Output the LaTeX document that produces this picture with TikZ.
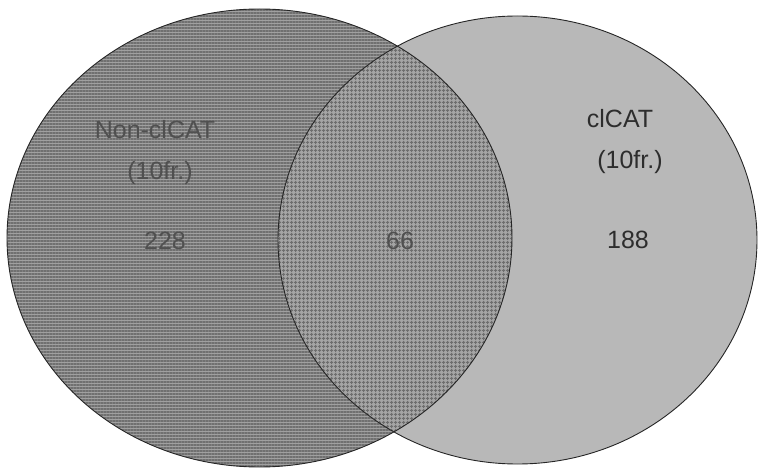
\documentclass[tikz,border=0pt]{standalone}
\usepackage{fontspec}
\setmainfont{Liberation Sans}
\usetikzlibrary{patterns.meta}
\definecolor{leftfill}{RGB}{160,160,160}
\definecolor{leftline}{RGB}{112,112,112}
\definecolor{rightfill}{RGB}{184,184,184}
\definecolor{midfill}{RGB}{165,165,165}
\definecolor{midline}{RGB}{110,110,110}
\definecolor{darktext}{RGB}{45,45,45}
\definecolor{lefttext}{RGB}{80,80,80}
\tikzset{
  lbl/.style={font=\fontsize{25}{30}\selectfont, inner sep=0pt},
  lblleft/.style={lbl, text=lefttext},
  lblright/.style={lbl, text=darktext},
  rim/.style={draw=black!85, line width=0.9pt}
}
\begin{document}
\begin{tikzpicture}[x=1pt,y=1pt]
\useasboundingbox (0,0) rectangle (758,469);
% right set (cICAT)
\fill[rightfill] (517.5,229) ellipse [x radius=239.5, y radius=224];
% left set (Non-cICAT)
\fill[leftfill] (259.5,231) ellipse [x radius=252.5, y radius=229];
\fill[pattern={Lines[angle=0,distance=3pt,line width=1.2pt]}, pattern color=leftline]
  (259.5,231) ellipse [x radius=252.5, y radius=229];
% intersection
\begin{scope}
  \clip (259.5,231) ellipse [x radius=252.5, y radius=229];
  \fill[midfill] (517.5,229) ellipse [x radius=239.5, y radius=224];
  \fill[pattern={Hatch[angle=0,distance=4pt,line width=1pt]}, pattern color=midline]
    (517.5,229) ellipse [x radius=239.5, y radius=224];
\end{scope}
% outlines
\draw[rim] (517.5,229) ellipse [x radius=239.5, y radius=224];
\draw[rim] (259.5,231) ellipse [x radius=252.5, y radius=229];
% labels
\node[lblleft] (ltitle) at (155,339) {Non-clCAT};
\node[lblleft] (lfr) at (160,296) {(10fr.)};
\node[lblleft] (lnum) at (165,228) {228};
\node[lblleft] (mnum) at (400,228) {66};
\node[lblright] (rtitle) at (620,350) {clCAT};
\node[lblright] (rfr) at (630,307) {(10fr.)};
\node[lblright] (rnum) at (628,229) {188};
\end{tikzpicture}
\end{document}
